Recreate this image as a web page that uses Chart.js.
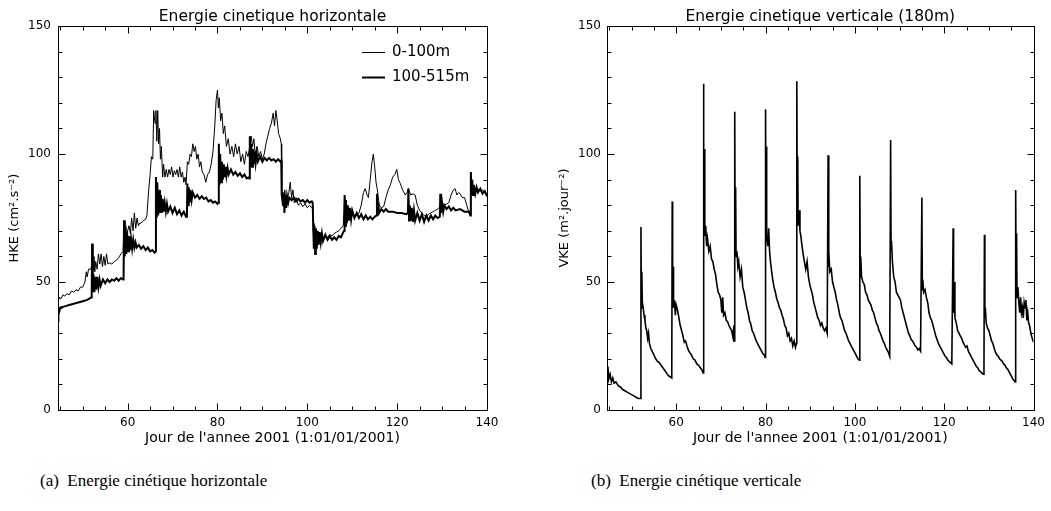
<!DOCTYPE html>
<html lang="fr">
<head>
<meta charset="UTF-8">
<title>Energie cinetique</title>
<script src="https://cdn.jsdelivr.net/npm/chart.js@4.4.1/dist/chart.umd.min.js"></script>
<style>
  html, body { margin: 0; padding: 0; background: #fff; }
  body { width: 1051px; height: 511px; position: relative; overflow: hidden; }
  canvas { position: absolute; top: 0; }
  #hke { left: 0; }
  #vke { left: 525px; }
  .caption {
    position: absolute; top: 471px; color: #000; white-space: nowrap;
    font-family: "Liberation Serif", "DejaVu Serif", serif; font-size: 17px;
  }
</style>
</head>
<body>
<canvas id="hke" width="525" height="450"></canvas>
<canvas id="vke" width="526" height="450"></canvas>
<div class="caption" style="left:40px">(a)&nbsp; Energie cinétique horizontale</div>
<div class="caption" style="left:591px">(b)&nbsp; Energie cinétique verticale</div>
<script>
// axis ranges and tick labels
const dayMin = 44.5, dayMax = 140;
const xTicks = [60, 80, 100, 120, 140];
const yTicks = [0, 50, 100, 150];

// [day, HKE] 0-100m (thin)
const hke0100 = [
  [44.5,42],[44.8,44],[45.2,43.5],[45.6,45],[46,44.5],[46.5,45.5],[47,45],[47.5,46.5],[48,46],[48.5,47],
  [49,46.5],[49.5,48],[50,48],[50.5,50],[50.8,54],[51,52],[51.3,55],[51.7,55],[52,56],[52.1,65],
  [52.3,55],[52.5,60],[52.7,54],[52.9,58],[53.2,55],[53.5,61],[53.8,57],[54.1,61],[54.4,56],[54.7,60],
  [55,56.5],[55.3,61],[55.6,57],[56,57.5],[56.5,57],[57,58],[57.5,58.5],[58,59.5],[58.5,61],[59,62],
  [59.2,74],[59.4,66],[59.6,72],[59.8,67],[60,70],[60.3,72],[60.6,69],[60.9,75],[61.2,70],[61.5,77],
  [61.8,71],[62.1,75],[62.4,72],[62.7,73],[63,73],[63.5,74],[64,74.5],[64.3,76],[64.6,84],[65,92],
  [65.3,99],[65.6,98],[65.8,117],[66.1,112],[66.3,117],[66.5,105],[66.7,117],[66.9,104],[67.1,110],[67.3,98],
  [67.5,103],[67.8,91],[68,96],[68.3,91],[68.6,94],[68.9,91],[69.2,94],[69.5,92],[69.8,95],[70.1,91],
  [70.4,93.5],[70.7,92],[71,94],[71.3,91],[71.6,95],[71.9,91],[72.2,93],[72.5,89],[72.8,91],[73,88],
  [73.3,97],[73.6,96],[73.9,100],[74.2,99],[74.5,104],[74.8,101],[75.1,103],[75.4,98],[75.7,100],[76,95],
  [76.3,97],[76.6,93],[77,92],[77.4,89],[77.8,92],[78.2,93],[78.6,96],[79,101],[79.4,111],[79.7,121],
  [80,125],[80.2,118],[80.4,122],[80.7,113],[81,116],[81.3,108],[81.6,111],[82,103],[82.4,106],[82.8,100],
  [83.2,103],[83.6,99],[84,104],[84.4,100],[84.8,103],[85.2,97],[85.6,100],[86,96],[86.4,101],[86.8,99],
  [87.2,103],[87.5,107],[87.8,103],[88.1,106],[88.4,100],[88.8,103],[89.2,99],[89.6,101],[90,98],[90.4,100],
  [90.8,104],[91.2,107],[91.6,110],[92,112],[92.4,116],[92.7,111],[93,117],[93.3,113],[93.6,108],[94,106],
  [94.2,104],[94.3,84],[94.6,82],[95,86],[95.3,80],[95.6,83],[95.9,85],[96.2,89],[96.5,83],[96.8,86],
  [97.1,81],[97.5,83],[98,80],[98.5,81],[99,79.5],[99.5,80.5],[100,79],[100.5,80],[101,79],[101.2,79.5],
  [101.3,70],[101.6,68],[102,67],[102.5,67.5],[103,68],[103.5,67],[104,68],[104.5,67.5],[105,68.5],[105.5,68],
  [106,69],[106.5,69.5],[107,70],[107.5,71],[108,72],[108.3,84],[108.6,76],[109,78],[109.5,75.5],[110,76],
  [110.5,75.5],[111,76],[111.5,77],[112,80],[112.5,85],[112.9,86.5],[113.3,84],[113.6,83],[114,90],[114.4,97],
  [114.7,100],[115,95],[115.3,89],[115.6,86],[116,80],[116.5,79],[117,79.5],[117.5,83],[118,86],[118.5,88],
  [119,91],[119.5,92],[119.9,94],[120.3,90],[120.7,88.5],[121.2,86],[121.8,84],[122.2,85],[122.5,86.5],[123,84],
  [123.5,84.5],[124,84],[124.5,80],[125,78],[125.5,77],[126,76],[126.5,75.5],[127,76.5],[127.5,77],[128,77.5],
  [128.5,78],[129,78.5],[129.6,79.5],[130,80],[130.5,80],[131,80.5],[131.5,81],[132,84],[132.5,86],[132.9,86.5],
  [133.3,84],[133.7,85],[134,84.5],[134.5,83],[135,83],[135.5,80],[136,77],[136.3,76],[136.4,92],[136.7,88],
  [137,87],[137.5,86],[138,86.5],[138.5,85.5],[139,86],[139.5,85],[140,84]
];

// [day, HKE] 100-515m (thick)
const hke100515 = [
  [44.5,35],[44.6,39],[44.8,38.5],[45,40],[46,40.5],[47,41],[48,41.5],[49,42],[50,42.5],[51,43],
  [51.9,44],[52,44.5],[52.1,65],[52.25,46],[52.4,53],[52.6,46],[52.8,52],[53,47],[53.25,52],[53.5,48],
  [53.75,51],[54,48.5],[54.5,51],[55,49.5],[55.5,51],[56,50],[56.5,51],[57,50.5],[57.5,51.5],[58,50.5],
  [58.5,51.5],[59,51],[59.1,51.5],[59.2,74],[59.35,60],[59.5,71],[59.7,61],[59.9,69],[60.1,62],[60.3,68],
  [60.5,62.5],[60.75,67],[61,63],[61.25,66.5],[61.5,63.5],[61.75,65.5],[62,63.5],[62.5,64.5],[63,63],[63.5,64],
  [64,62.5],[64.5,63.5],[65,62],[65.5,62.5],[66,61.5],[66.2,62],[66.3,91],[66.45,75],[66.6,89],[66.8,76],
  [67,86],[67.2,77],[67.4,84],[67.6,77],[67.8,82.5],[68,77.5],[68.25,81],[68.5,77.5],[68.75,80.5],[69,77.5],
  [69.5,79.5],[70,77],[70.5,79],[71,76.5],[71.5,78],[72,76],[72.5,77.5],[73,75.5],[73.2,76],[73.3,88.5],
  [73.45,80],[73.6,87],[73.8,81],[74,86],[74.25,82],[74.5,85],[75,83],[75.5,84],[76,82.5],[76.5,83.5],
  [77,82.5],[77.5,83],[78,81.5],[78.5,82],[79,81],[79.5,81.5],[80,80.5],[80.2,81],[80.3,104],[80.45,88],
  [80.6,100],[80.8,89],[81,97],[81.2,90],[81.4,96],[81.6,91],[81.8,95],[82,91.5],[82.25,94.5],[82.5,92],
  [83,94],[83.5,92],[84,93],[84.5,91.5],[85,92.5],[85.5,91],[86,92],[86.5,90.5],[87,91],[87.1,90.5],
  [87.2,107],[87.35,95],[87.5,104],[87.7,95],[87.9,102],[88.1,96],[88.3,101],[88.5,96.5],[88.75,100],[89,97],
  [89.5,99],[90,97],[90.5,98.5],[91,97.5],[91.5,98.5],[92,97.5],[92.5,98],[93,97],[93.5,98],[94,97],
  [94.2,97.5],[94.3,84],[94.45,82],[94.6,80],[94.75,85],[94.9,77],[95.1,84],[95.3,79],[95.5,83.5],[95.75,81],
  [96,83],[96.5,82],[97,83],[97.5,81.5],[98,82.5],[98.5,81.5],[99,82],[99.5,81],[100,82],[100.5,81],
  [101,81.5],[101.2,81],[101.3,73],[101.45,63],[101.6,72],[101.75,61],[101.9,71],[102.1,63],[102.3,70],[102.5,64.5],
  [102.75,69.5],[103,65.5],[103.25,69],[103.5,66],[104,68.5],[104.5,66.5],[105,68],[105.5,66.5],[106,67.5],[106.5,66.5],
  [107,68],[107.5,67.5],[108,69.5],[108.2,70],[108.3,84],[108.45,72],[108.6,82],[108.8,73],[109,80],[109.25,74],
  [109.5,79],[109.75,74.5],[110,78],[110.5,75],[111,77],[111.5,75],[112,76.5],[112.5,74.5],[113,76],[113.5,74.5],
  [114,75.5],[114.5,74.5],[115,75.5],[115.4,76],[115.5,84.5],[115.65,76],[115.8,81],[116,77],[116.5,78.5],[117,77.5],
  [117.5,78.5],[118,77.5],[119,77.5],[120,77],[121,77],[122,76.5],[122.4,77],[122.5,86.5],[122.65,74],[122.8,80],
  [123,74],[123.25,79],[123.5,73.5],[123.75,78],[124,74],[124.5,77],[125,74],[125.5,76.5],[126,73.5],[126.5,76],
  [127,74],[127.5,76],[128,74.5],[128.5,76],[129,75],[129.5,75.5],[129.6,84.5],[129.75,77],[130,81],[130.25,77.5],
  [130.5,80],[131,78.5],[131.5,79.5],[132,78],[132.5,79],[133,78],[134,78.5],[135,77.5],[136,77.5],[136.3,76],
  [136.4,93],[136.55,84],[136.7,90],[136.9,84],[137.1,88],[137.4,84.5],[137.7,87],[138,85],[138.5,86.5],[139,84.5],
  [139.5,85.5],[140,83.5]
];

// [day, VKE] at 180m
const vke180 = [
  [44.5,14],[44.7,17],[44.9,12],[45.2,14],[45.5,11],[45.8,12.5],[46.1,10.5],[46.5,11],[47,9.5],[47.5,9],
  [48,8],[48.5,7.5],[49,7],[49.5,6.5],[50,6],[50.5,5.5],[51,5],[51.5,4.5],[52,4.5],[52.1,71.5],
  [52.2,40],[52.3,54],[52.4,42],[52.6,40],[52.8,37],[53,35],[53.2,32],[53.4,31],[53.6,28],[53.8,30],
  [54,26],[54.3,24],[54.6,23],[55,21.5],[55.4,20],[55.8,19],[56.2,18.5],[56.6,17.5],[57,16.5],[57.4,15.5],
  [57.8,14.5],[58.2,13.5],[58.6,13],[59,12.5],[59.1,81.5],[59.2,42],[59.3,56],[59.4,40],[59.6,43],[59.8,37],
  [60,41],[60.3,39],[60.6,36],[60.9,33],[61.2,31],[61.5,29],[61.8,26.5],[62.1,27],[62.4,25],[62.7,23.5],
  [63,22.5],[63.4,21.5],[63.8,20],[64.2,19.5],[64.6,18],[65,17.5],[65.4,16.5],[65.8,15.5],[66,14.5],[66.1,127.5],
  [66.2,72],[66.3,102],[66.4,68],[66.6,72],[66.8,64],[67,67],[67.3,62],[67.6,64],[67.9,59],[68.2,58],
  [68.5,55],[68.8,53],[69.1,49],[69.4,46],[69.7,45],[70,43],[70.2,38],[70.4,44],[70.6,37],[70.9,38],
  [71.2,35],[71.5,34.5],[71.8,33],[72.1,32],[72.4,31],[72.7,28.5],[72.9,33],[73,27],[73.1,116.5],[73.2,62],
  [73.3,87],[73.4,60],[73.6,62],[73.8,56],[74,58],[74.3,52],[74.6,55],[74.9,48],[75.2,46],[75.5,43],
  [75.8,40],[76.1,38],[76.4,35],[76.7,33.5],[77,31],[77.3,30],[77.6,28.5],[77.9,27],[78.2,26],[78.5,25],
  [78.8,24],[79.1,23],[79.4,22],[79.7,21.5],[79.9,20.5],[80,117.5],[80.1,66],[80.2,103],[80.3,68],[80.5,64],
  [80.7,71],[80.9,62],[81.1,58],[81.3,55],[81.6,51],[81.9,48],[82.2,46],[82.5,43.5],[82.8,42],[83.1,40],
  [83.4,39],[83.7,37],[84,35.5],[84.3,33],[84.6,32],[84.9,29],[85.2,30],[85.5,27],[85.8,28],[86.1,25],
  [86.4,27],[86.7,24.5],[86.9,26],[87,128.5],[87.1,76],[87.2,99],[87.3,72],[87.5,78],[87.7,70],[87.9,68],
  [88.1,65],[88.4,61],[88.7,58],[89,55],[89.3,58],[89.6,52],[89.9,49],[90.2,47],[90.5,45],[90.8,42],
  [91.1,40],[91.4,38],[91.7,36],[92,35],[92.3,33],[92.6,34],[92.9,32],[93.2,31],[93.5,32],[93.8,30],
  [94,99.5],[94.1,56],[94.2,62],[94.4,54],[94.7,55],[95,50],[95.3,48],[95.6,46],[95.9,43],[96.2,41],
  [96.5,38],[96.8,36],[97.1,35],[97.4,33],[97.7,31],[98,30],[98.3,28.5],[98.6,27],[98.9,26],[99.2,25],
  [99.5,24],[99.8,23],[100.1,22],[100.4,21],[100.7,20],[101,19.5],[101.1,91.5],[101.2,52],[101.3,60],[101.5,52],
  [101.8,50],[102.1,49],[102.4,46],[102.7,45],[103,43],[103.3,42],[103.6,41],[103.9,39],[104.2,38],[104.5,36],
  [104.8,34],[105.1,33],[105.4,31],[105.7,30],[106,28.5],[106.3,27],[106.6,26],[106.9,24.5],[107.2,23.5],[107.5,22.5],
  [107.8,21],[108,105.5],[108.1,63],[108.2,66],[108.4,58],[108.7,52],[109,50],[109.3,46],[109.6,45],[109.9,44],
  [110.2,43],[110.5,40],[110.8,38],[111.1,36],[111.4,34],[111.7,32],[112,30],[112.3,29],[112.6,27.5],[112.9,27],
  [113.2,26],[113.5,25],[113.8,24.5],[114.1,23.5],[114.4,24],[114.7,23],[115,83],[115.1,47],[115.2,51],[115.4,46],
  [115.7,47],[116,44],[116.3,42],[116.6,38],[116.9,36],[117.2,35],[117.5,33],[117.8,31],[118.1,29],[118.4,27.5],
  [118.7,26],[119,25],[119.3,24],[119.6,23],[119.9,22],[120.2,21],[120.5,20.5],[120.8,19.5],[121.1,19],[121.4,18.5],
  [121.7,18],[122,71],[122.1,38],[122.2,50],[122.4,36],[122.7,34],[123,31],[123.3,30],[123.6,29],[123.9,28],
  [124.2,26.5],[124.5,25.5],[124.8,24.5],[125.1,25],[125.4,23],[125.7,22],[126,21],[126.3,20],[126.6,19],[126.9,18],
  [127.2,17],[127.5,16.5],[127.8,15.5],[128.1,15],[128.4,14.5],[128.7,14],[128.9,15],[129,68.5],[129.1,36],[129.2,40],
  [129.4,34],[129.7,32],[130,31],[130.3,29],[130.6,27],[130.9,26],[131.2,24],[131.5,22.5],[131.8,21.5],[132.1,21],
  [132.4,20],[132.7,19.5],[133,19],[133.3,18],[133.6,17.5],[133.9,16.5],[134.2,16],[134.5,15],[134.8,14],[135.1,13],
  [135.4,12],[135.7,11.5],[135.9,11],[136,86],[136.1,50],[136.2,69],[136.3,44],[136.5,48],[136.7,42],[136.9,38],
  [137.1,44],[137.3,38],[137.5,40],[137.7,36],[137.9,42],[138.1,40],[138.3,43],[138.5,35],[138.7,38],[138.9,34],
  [139.1,33],[139.4,30],[139.7,28],[140,26.5]
];

const toPoints = arr => arr.map(([x, y]) => ({ x, y }));
const FONT = 'DejaVu Sans';

// IDL-style frame with inward ticks on all four sides
const frameTicks = {
  id: 'frameTicks',
  afterDatasetsDraw(chart) {
    const { ctx, chartArea: a, scales: { x, y } } = chart;
    const L = Math.round(a.left) + 0.5, R = Math.round(a.right) + 0.5;
    const T = Math.round(a.top) + 0.5, B = Math.round(a.bottom) + 0.5;
    ctx.save();
    ctx.strokeStyle = '#000';
    ctx.lineWidth = 1;
    ctx.strokeRect(L, T, R - L, B - T);
    ctx.beginPath();
    for (let d = 45; d <= dayMax; d += 5) {
      const px = Math.round(x.getPixelForValue(d)) + 0.5;
      const len = xTicks.includes(d) ? 7 : 4;
      ctx.moveTo(px, B); ctx.lineTo(px, B - len);
      ctx.moveTo(px, T); ctx.lineTo(px, T + len);
    }
    for (let v = 10; v < 150; v += 10) {
      const py = Math.round(y.getPixelForValue(v)) + 0.5;
      const len = yTicks.includes(v) ? 7 : 4;
      ctx.moveTo(L, py); ctx.lineTo(L + len, py);
      ctx.moveTo(R, py); ctx.lineTo(R - len, py);
    }
    ctx.stroke();
    ctx.restore();
  }
};

// line key inside the upper right of the plot
const lineKey = {
  id: 'lineKey',
  afterDraw(chart) {
    const { ctx, chartArea: a } = chart;
    ctx.save();
    ctx.font = '15px "' + FONT + '"';
    ctx.fillStyle = '#000';
    ctx.textBaseline = 'middle';
    chart.data.datasets.forEach((ds, i) => {
      const yy = Math.round(a.top + 26 + i * 25) + 0.5;
      ctx.beginPath();
      ctx.lineWidth = ds.borderWidth;
      ctx.strokeStyle = '#000';
      ctx.moveTo(a.right - 125, yy);
      ctx.lineTo(a.right - 102, yy);
      ctx.stroke();
      ctx.fillText(ds.label, a.right - 95, yy);
    });
    ctx.restore();
  }
};

function buildOptions(title, yTitle, yWidth, yTitlePad, tickPad, padRight) {
  return {
    responsive: false,
    animation: false,
    layout: { padding: { left: 0, right: padRight, top: 0, bottom: 0 } },
    plugins: {
      legend: { display: false },
      tooltip: { enabled: false },
      title: {
        display: true, text: title, color: '#000', fullSize: false,
        font: { family: FONT, size: 15.5, weight: 'normal' },
        padding: { top: 7.5, bottom: 0 }
      }
    },
    elements: { point: { radius: 0 }, line: { tension: 0 } },
    scales: {
      x: {
        type: 'linear', min: dayMin, max: dayMax,
        afterBuildTicks: s => { s.ticks = xTicks.map(v => ({ value: v })); },
        afterFit: s => { s.height = 40; },
        grid: { display: false, drawTicks: false },
        border: { display: false },
        ticks: { color: '#000', font: { family: FONT, size: 12 }, padding: 6, maxRotation: 0, autoSkip: false },
        title: {
          display: true, text: "Jour de l'annee 2001 (1:01/01/2001)", color: '#000',
          font: { family: FONT, size: 14 }, padding: { top: 0, bottom: 3 }
        }
      },
      y: {
        min: 0, max: 150,
        afterBuildTicks: s => { s.ticks = yTicks.map(v => ({ value: v })); },
        afterFit: s => { s.width = yWidth; },
        grid: { display: false, drawTicks: false },
        border: { display: false },
        ticks: { color: '#000', font: { family: FONT, size: 12 }, padding: tickPad },
        title: {
          display: true, text: yTitle, color: '#000',
          font: { family: FONT, size: 13 }, padding: { top: yTitlePad, bottom: 0 }
        }
      }
    }
  };
}

new Chart(document.getElementById('hke'), {
  type: 'line',
  data: {
    datasets: [
      { label: '0-100m', data: toPoints(hke0100), borderColor: '#000', borderWidth: 1 },
      { label: '100-515m', data: toPoints(hke100515), borderColor: '#000', borderWidth: 2 }
    ]
  },
  options: buildOptions('Energie cinetique horizontale', 'HKE (cm².s⁻²)', 58, 7, 7, 38),
  plugins: [frameTicks, lineKey]
});

new Chart(document.getElementById('vke'), {
  type: 'line',
  data: {
    datasets: [
      { label: 'VKE 180m', data: toPoints(vke180), borderColor: '#000', borderWidth: 1.6 }
    ]
  },
  options: buildOptions('Energie cinetique verticale (180m)', 'VKE (m².jour⁻²)', 82, 32, 6, 16),
  plugins: [frameTicks]
});
</script>
</body>
</html>
